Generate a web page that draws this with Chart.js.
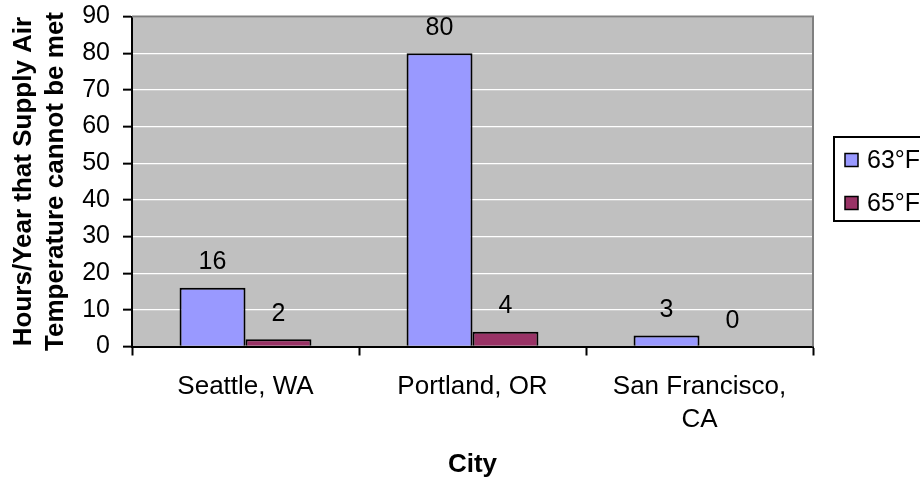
<!DOCTYPE html>
<html>
<head>
<meta charset="utf-8">
<script src="https://cdn.jsdelivr.net/npm/chart.js@4/dist/chart.umd.min.js"></script>
<style>
  html, body { margin: 0; padding: 0; background: #ffffff; }
  canvas { display: block; }
</style>
</head>
<body>
<canvas id="c" width="920" height="480"></canvas>
<script>
const categories = ['Seattle, WA', 'Portland, OR', ['San Francisco,', 'CA']];
const seriesNames = ['63°F', '65°F'];
const values63 = [16, 80, 3];
const values65 = [2, 4, 0];
const yMin = 0;
const yMax = 90;
const yStep = 10;
const yTitleLines = ['Hours/Year that Supply Air', 'Temperature cannot be met'];
const xTitle = 'City';

const FONT = "'Liberation Sans', Arial, sans-serif";
const colors = ['#9999FF', '#993366'];

const bgPlugin = {
  id: 'bg',
  beforeDraw(chart) {
    const ctx = chart.ctx;
    const a = chart.chartArea;
    ctx.save();
    ctx.fillStyle = '#ffffff';
    ctx.fillRect(0, 0, chart.width, chart.height);
    ctx.fillStyle = '#C0C0C0';
    ctx.fillRect(a.left, a.top, a.right - a.left, a.bottom - a.top);
    ctx.restore();
  }
};

const framePlugin = {
  id: 'frame',
  afterDatasetsDraw(chart) {
    const ctx = chart.ctx;
    const a = chart.chartArea;
    ctx.save();
    ctx.strokeStyle = '#808080';
    ctx.lineWidth = 2;
    ctx.beginPath();
    ctx.moveTo(a.left, a.top);
    ctx.lineTo(a.right, a.top);
    ctx.lineTo(a.right, a.bottom);
    ctx.stroke();
    ctx.fillStyle = '#000';
    ctx.font = '25px ' + FONT;
    ctx.textAlign = 'center';
    ctx.textBaseline = 'middle';
    chart.data.datasets.forEach((ds, i) => {
      const meta = chart.getDatasetMeta(i);
      meta.data.forEach((el, j) => {
        ctx.fillText(String(ds.data[j]), el.x, el.y - 25.5);
      });
    });
    const lx = 834, ly = 137, lw = 130, lh = 84;
    ctx.strokeStyle = '#000';
    ctx.lineWidth = 2;
    ctx.strokeRect(lx, ly, lw, lh);
    const rowY = [160, 203];
    chart.data.datasets.forEach((ds, i) => {
      const cy = rowY[i];
      ctx.fillStyle = ds.backgroundColor;
      ctx.fillRect(845, cy - 6.5, 13, 13);
      ctx.lineWidth = 1.5;
      ctx.strokeStyle = '#000';
      ctx.strokeRect(845, cy - 6.5, 13, 13);
      ctx.fillStyle = '#000';
      ctx.textAlign = 'left';
      ctx.textBaseline = 'middle';
      ctx.font = '25px ' + FONT;
      ctx.fillText(ds.label, 867, cy + 1.5);
    });
    ctx.restore();
  }
};

new Chart(document.getElementById('c'), {
  type: 'bar',
  data: {
    labels: categories,
    datasets: [
      { label: seriesNames[0], data: values63, backgroundColor: colors[0], borderColor: '#000', borderWidth: 2, categoryPercentage: 0.581, barPercentage: 1.0 },
      { label: seriesNames[1], data: values65, backgroundColor: colors[1], borderColor: '#000', borderWidth: 2, categoryPercentage: 0.581, barPercentage: 1.0 }
    ]
  },
  options: {
    responsive: false,
    animation: false,
    devicePixelRatio: 1,
    layout: { padding: { top: 16.5, right: 107, left: 0, bottom: 0 } },
    plugins: {
      legend: { display: false },
      tooltip: { enabled: false },
      title: { display: false }
    },
    scales: {
      x: {
        offset: true,
        grid: { display: true, offset: true, drawOnChartArea: false, drawTicks: true, tickLength: 9, tickColor: '#000', tickWidth: 2 },
        border: { display: true, color: '#000', width: 2 },
        ticks: { color: '#000', font: { family: FONT, size: 26, lineHeight: 1.27 }, padding: 15, maxRotation: 0, autoSkip: false },
        title: { display: true, text: xTitle, color: '#000', font: { family: FONT, size: 26, weight: 'bold', lineHeight: 1.14 }, padding: { top: 0, bottom: 0 } },
        afterFit(scale) { scale.height = 480 - 346.5; scale.paddingLeft = 0; scale.paddingRight = 0; }
      },
      y: {
        min: yMin,
        max: yMax,
        grid: { color: '#ffffff', lineWidth: 1.3, tickColor: '#000', tickWidth: 2, tickLength: 9, drawTicks: true },
        border: { display: true, color: '#000', width: 2 },
        ticks: { stepSize: yStep, color: '#000', font: { family: FONT, size: 25 }, padding: 13 },
        title: { display: true, text: yTitleLines, color: '#000', font: { family: FONT, size: 26, weight: 'bold', lineHeight: 1.22 }, padding: { top: 7.8, bottom: 0 } },
        afterFit(scale) { scale.width = 132; scale.paddingTop = 0; scale.paddingBottom = 0; }
      }
    }
  },
  plugins: [bgPlugin, framePlugin]
});
</script>
</body>
</html>
